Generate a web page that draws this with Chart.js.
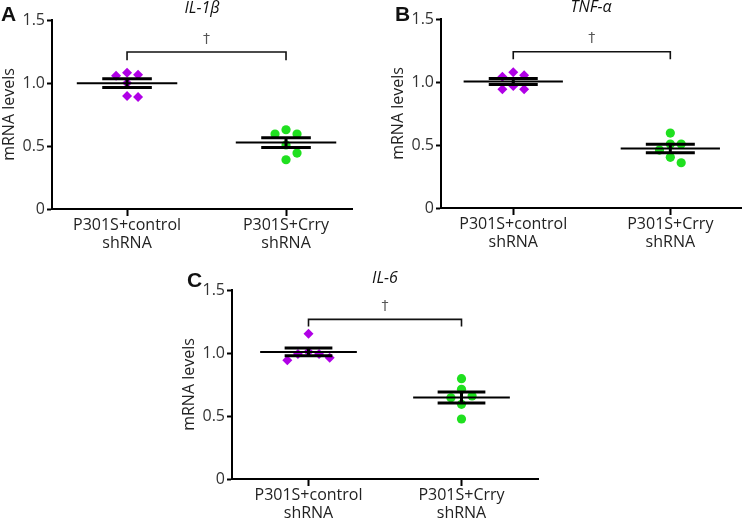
<!DOCTYPE html>
<html>
<head>
<meta charset="utf-8">
<script src="https://cdn.jsdelivr.net/npm/chart.js@4"></script>
<style>
  body { margin: 0; background: #fff; }
  .panel { position: absolute; }
</style>
</head>
<body>
<div class="panel" style="left:0;top:0;width:365px;height:258px"><canvas id="chartA"></canvas></div>
<div class="panel" style="left:389px;top:0;width:357px;height:258px"><canvas id="chartB"></canvas></div>
<div class="panel" style="left:180px;top:260px;width:366px;height:260px"><canvas id="chartC"></canvas></div>
<script>
Chart.defaults.font.family = "'Open Sans', sans-serif";

const groups = [["P301S+control", "shRNA"], ["P301S+Crry", "shRNA"]];
const yTicks = [0, 0.5, 1.0, 1.5];

// IL-1β
const il1bControl = [1.082, 1.066, 1.058, 1.0, 0.897, 0.889];
const il1bCrry = [0.629, 0.595, 0.595, 0.508, 0.444, 0.391];
// TNF-α
const tnfControl = [1.077, 1.053, 1.042, 0.968, 0.942, 0.942];
const tnfCrry = [0.595, 0.508, 0.508, 0.46, 0.402, 0.359];
// IL-6
const il6Control = [1.153, 1.010, 0.992, 0.992, 0.963, 0.942];
const il6Crry = [0.796, 0.712, 0.659, 0.645, 0.593, 0.476];

const purple = "#b000e6";
const green = "#1fe01f";

// spread points with near values sideways, like a dot plot
function swarm(values, center) {
    const yPx = 126, xPx = 159, D = 9.5, step = 11;
    const order = values.map((v, i) => i).sort((a, b) => values[b] - values[a]);
    const placed = [];
    const out = new Array(values.length);
    order.forEach(i => {
        const y = values[i] * yPx;
        for (let k = 0; k < 20; k++) {
            const off = k === 0 ? 0 : (k % 2 ? 1 : -1) * Math.ceil(k / 2) * step;
            if (placed.every(p => Math.hypot(p.x - off, p.y - y) >= D)) {
                placed.push({ x: off, y });
                out[i] = { x: center + off / xPx, y: values[i] };
                break;
            }
        }
    });
    return out;
}

function meanSem(values) {
    const n = values.length;
    const m = values.reduce((a, b) => a + b, 0) / n;
    const sd = Math.sqrt(values.reduce((a, b) => a + (b - m) * (b - m), 0) / (n - 1));
    return [m, sd / Math.sqrt(n)];
}

function meanLine(values, c) {
    const [m] = meanSem(values);
    return [{ x: c - 0.316, y: m }, { x: c + 0.316, y: m }];
}

function semLines(values, c) {
    const [m, s] = meanSem(values);
    const w = 0.156;
    return [
        { x: c - w, y: m + s }, { x: c + w, y: m + s }, { x: c, y: null },
        { x: c - w, y: m - s }, { x: c + w, y: m - s }, { x: c, y: null },
        { x: c, y: m - s }, { x: c, y: m + s },
    ];
}

const labelsPlugin = {
    id: "panelLabels",
    afterDraw(chart, args, opts) {
        const { ctx, chartArea, scales } = chart;
        ctx.save();
        ctx.textAlign = "center";
        ctx.textBaseline = "middle";
        ctx.fillStyle = "#111";
        ctx.font = "italic 16px 'Open Sans', sans-serif";
        ctx.fillText(opts.title, (chartArea.left + chartArea.right) / 2, chartArea.top - 12);
        ctx.font = "bold 21px 'Liberation Sans', Arial, sans-serif";
        ctx.textAlign = "left";
        ctx.fillText(opts.letter, opts.letterX, chartArea.top + opts.letterY);
        ctx.font = "14px 'DejaVu Sans', sans-serif";
        ctx.fillStyle = "#555";
        ctx.textAlign = "center";
        ctx.fillText("†", scales.x.getPixelForValue(1.5), scales.y.getPixelForValue(opts.bracket[1]) - 13);
        ctx.restore();
    }
};

function makeChart(id, control, crry, p) {
    const ctx = document.getElementById(id).getContext("2d");
    return new Chart(ctx, {
        type: "scatter",
        data: {
            datasets: [
                {
                    data: swarm(control, 1),
                    pointStyle: "rectRot",
                    pointRadius: 5,
                    pointBorderWidth: 0,
                    backgroundColor: purple,
                    borderColor: purple,
                    order: 2,
                },
                {
                    data: swarm(crry, 2),
                    pointStyle: "circle",
                    pointRadius: 4.6,
                    pointBorderWidth: 0,
                    backgroundColor: green,
                    borderColor: green,
                    order: 2,
                },
                { type: "line", data: meanLine(control, 1), borderColor: "#000", borderWidth: 2, pointRadius: 0, order: 1 },
                { type: "line", data: meanLine(crry, 2), borderColor: "#000", borderWidth: 2, pointRadius: 0, order: 1 },
                { type: "line", data: semLines(control, 1), borderColor: "#000", borderWidth: 3, pointRadius: 0, order: 0 },
                { type: "line", data: semLines(crry, 2), borderColor: "#000", borderWidth: 3, pointRadius: 0, order: 0 },
                {
                    type: "line",
                    data: [
                        { x: 1, y: p.bracket[0] }, { x: 1, y: p.bracket[1] },
                        { x: 2, y: p.bracket[1] }, { x: 2, y: p.bracket[0] },
                    ],
                    borderColor: "#111",
                    borderWidth: 1.6,
                    pointRadius: 0,
                    order: 0,
                },
            ]
        },
        options: {
            responsive: true,
            maintainAspectRatio: false,
            animation: false,
            events: [],
            layout: { padding: { top: p.top, right: p.right, left: 0, bottom: 0 } },
            scales: {
                x: {
                    type: "linear",
                    min: p.xMin,
                    max: p.xMax,
                    afterBuildTicks: s => { s.ticks = [{ value: 1 }, { value: 2 }]; },
                    afterFit: s => { s.height = p.xHeight; },
                    ticks: {
                        callback: v => groups[v - 1],
                        color: "#222",
                        padding: 0,
                        maxRotation: 0,
                        font: { size: 16, lineHeight: 1.15 },
                    },
                    grid: { drawOnChartArea: false, tickLength: 7, tickWidth: 2, tickColor: "#000" },
                    border: { color: "#000", width: 2 },
                },
                y: {
                    min: 0,
                    max: 1.5,
                    afterBuildTicks: s => { s.ticks = yTicks.map(v => ({ value: v })); },
                    afterFit: s => { s.width = 52; },
                    ticks: {
                        callback: v => v === 0 ? "0" : v.toFixed(1),
                        color: "#333",
                        padding: 2,
                        font: { size: 16 },
                    },
                    grid: { drawOnChartArea: false, tickLength: 5, tickWidth: 2, tickColor: "#000" },
                    border: { color: "#000", width: 2 },
                    title: {
                        display: true,
                        text: "mRNA levels",
                        color: "#222",
                        font: { size: 16 },
                        padding: { top: 0, bottom: 0 },
                    },
                },
            },
            plugins: {
                legend: { display: false },
                tooltip: { enabled: false },
                panelLabels: { title: p.title, letter: p.letter, letterX: p.letterX, letterY: p.letterY, bracket: p.bracket },
            }
        },
        plugins: [labelsPlugin]
    });
}

const chartA = makeChart("chartA", il1bControl, il1bCrry, {
    title: "IL-1β", letter: "A", letterX: 1, letterY: -5, bracket: [1.18, 1.246],
    top: 20, right: 13, xHeight: 49, xMin: 0.528, xMax: 2.415,
});
const chartB = makeChart("chartB", tnfControl, tnfCrry, {
    title: "TNF-α", letter: "B", letterX: 6, letterY: -4, bracket: [1.18, 1.24],
    top: 19, right: 1, xHeight: 50, xMin: 0.54, xMax: 2.45,
});
const chartC = makeChart("chartC", il6Control, il6Crry, {
    title: "IL-6", letter: "C", letterX: 7, letterY: -9, bracket: [1.21, 1.267],
    top: 30, right: 8, xHeight: 41, xMin: 0.5, xMax: 2.5,
});
</script>
</body>
</html>
